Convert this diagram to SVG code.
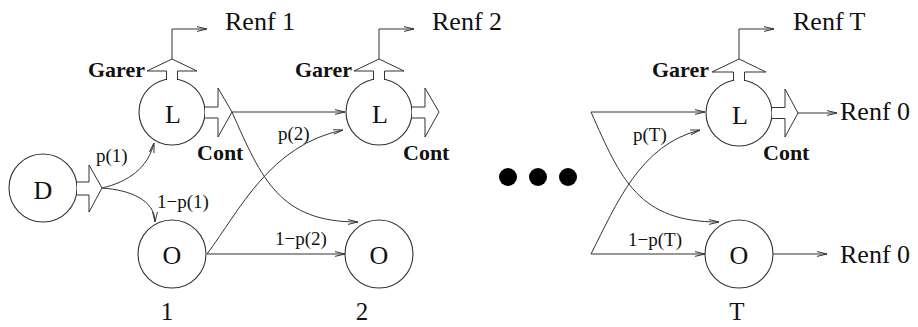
<svg xmlns="http://www.w3.org/2000/svg" width="918" height="327" viewBox="0 0 918 327">
<style>
.n{fill:none;stroke:#333;stroke-width:1.1}
.c{fill:none;stroke:#333;stroke-width:1}
.ba{fill:#fff;stroke:#333;stroke-width:1}
.t{font-family:"Liberation Serif","Times New Roman",serif;fill:#111}
.big{font-size:26px}
.stage{font-size:25px}
.renf{font-size:26px}
.bold{font-size:22px;font-weight:bold}
.sm{font-size:19px}
</style>
<defs>
<marker id="ar" viewBox="0 0 10 6" refX="10" refY="3" markerWidth="10" markerHeight="6" markerUnits="userSpaceOnUse" orient="auto">
<path d="M0,0.6 L10,3 L0,5.4" fill="none" stroke="#333" stroke-width="1"/>
</marker>
</defs>
<rect width="918" height="327" fill="#fff"/>

<g id="connectors" class="c">
<path d="M102,188 C128,182 148,168 154,143" marker-end="url(#ar)"/>
<path d="M102,188 C130,190 155,200 155,222" marker-end="url(#ar)"/>
<path d="M232,112 L345,112" marker-end="url(#ar)"/>
<path d="M232,112 C262,180 280,222 358,222" marker-end="url(#ar)"/>
<path d="M207,254 C240,210 270,145 343,130" marker-end="url(#ar)"/>
<path d="M207,254 L345,254" marker-end="url(#ar)"/>
<path d="M591,112 L705,112" marker-end="url(#ar)"/>
<path d="M591,112 C621,180 639,222 719,222" marker-end="url(#ar)"/>
<path d="M591,254 C617,203 640,145 700,130" marker-end="url(#ar)"/>
<path d="M591,254 L705,254" marker-end="url(#ar)"/>
<path d="M172,59 L172,29 L207,29" marker-end="url(#ar)"/>
<path d="M379,59 L379,29 L414,29" marker-end="url(#ar)"/>
<path d="M739,59 L739,29 L774,29" marker-end="url(#ar)"/>
<path d="M798,113 L837,113" marker-end="url(#ar)"/>
<path d="M773,254 L827,254" marker-end="url(#ar)"/>
</g>

<g id="node-D">
<circle class="n" cx="43" cy="188" r="34"/>
<text class="t big" x="43" y="199" text-anchor="middle">D</text>
<path class="ba" d="M77,182 L89,182 L89,165 L102,188 L89,212 L89,195 L77,195"/>
</g>

<g id="node-L1">
<circle class="n" cx="172" cy="112" r="33"/>
<text class="t big" x="173" y="123" text-anchor="middle">L</text>
<path class="ba" d="M166.5,80 L166.5,71 L147,71 L172,59 L197,71 L177.5,71 L177.5,80"/>
<path class="ba" d="M205,107 L218,107 L218,88 L232,112 L218,137 L218,118 L205,118"/>
<text class="t bold" x="145" y="77" text-anchor="end">Garer</text>
<text class="t bold" x="197" y="160">Cont</text>
</g>

<g id="node-O1">
<circle class="n" cx="172" cy="254" r="34"/>
<text class="t big" x="172" y="264" text-anchor="middle">O</text>
</g>

<g id="node-L2">
<circle class="n" cx="379" cy="112" r="33"/>
<text class="t big" x="380" y="123" text-anchor="middle">L</text>
<path class="ba" d="M373.5,80 L373.5,71 L354,71 L379,59 L404,71 L384.5,71 L384.5,80"/>
<path class="ba" d="M412,107 L425,107 L425,88 L439,112 L425,137 L425,118 L412,118"/>
<text class="t bold" x="352" y="77" text-anchor="end">Garer</text>
<text class="t bold" x="403" y="160">Cont</text>
</g>

<g id="node-O2">
<circle class="n" cx="379" cy="254" r="34"/>
<text class="t big" x="379" y="264" text-anchor="middle">O</text>
</g>

<g id="node-LT">
<circle class="n" cx="739" cy="113" r="33"/>
<text class="t big" x="740" y="124" text-anchor="middle">L</text>
<path class="ba" d="M733.5,81 L733.5,72 L712,72 L739,59 L766,72 L744.5,72 L744.5,81"/>
<path class="ba" d="M772,107.5 L785,107.5 L785,89 L798,113 L785,137 L785,118.5 L772,118.5"/>
<text class="t bold" x="709" y="77" text-anchor="end">Garer</text>
<text class="t bold" x="763" y="160">Cont</text>
</g>

<g id="node-OT">
<circle class="n" cx="739" cy="254" r="34"/>
<text class="t big" x="739" y="264" text-anchor="middle">O</text>
</g>

<g id="labels" class="t">
<text class="sm" x="96" y="162">p(1)</text>
<text class="sm" x="157" y="208">1−p(1)</text>
<text class="sm" x="278" y="140">p(2)</text>
<text class="sm" x="275" y="245">1−p(2)</text>
<text class="sm" x="633" y="141">p(T)</text>
<text class="sm" x="628" y="246">1−p(T)</text>
<text class="renf" x="225" y="30">Renf 1</text>
<text class="renf" x="432" y="30">Renf 2</text>
<text class="renf" x="793" y="30">Renf T</text>
<text class="renf" x="840" y="120">Renf 0</text>
<text class="renf" x="840" y="263">Renf 0</text>
<text class="stage" x="167" y="320" text-anchor="middle">1</text>
<text class="stage" x="362" y="320" text-anchor="middle">2</text>
<text class="stage" x="737" y="320" text-anchor="middle">T</text>
</g>

<g id="ellipsis" fill="#000">
<circle cx="508" cy="177" r="9"/>
<circle cx="538" cy="177" r="9"/>
<circle cx="568" cy="177" r="9"/>
</g>
</svg>
